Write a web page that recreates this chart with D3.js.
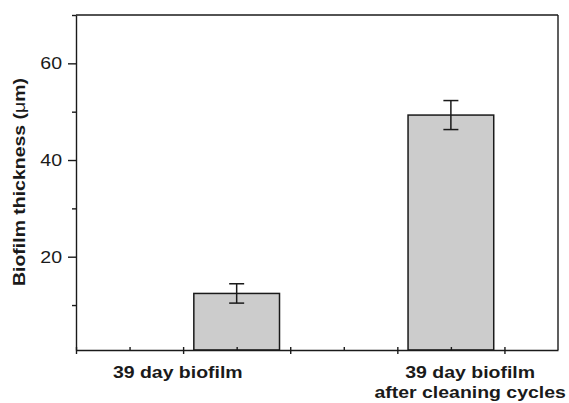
<!doctype html>
<html>
<head>
<meta charset="utf-8">
<script src="https://cdn.jsdelivr.net/npm/d3@7"></script>
<style>
  body { margin: 0; background: #fff; }
  svg { display: block; font-family: "Liberation Sans", Arial, sans-serif; }
</style>
</head>
<body>
<svg id="chart" width="569" height="403"></svg>
<script>
  // data
  var categories = ['39 day biofilm', '39 day biofilm|after cleaning cycles'];
  var barPos = [1.5, 3.5];
  var labelPos = [0.95, 3.68];
  var values = [12.4, 49.3];
  var errors = [2.0, 3.0];
  var yMajor = [20, 40, 60];
  var yMinor = [10, 30, 50, 70];
  var xMajor = [0, 1, 2, 3, 4];
  var xMinor = [0.5, 1.5, 2.5, 3.5];

  (function () {
    var pLeft = 76, pTop = 15, pRight = 558, pBottom = 350;
    var ink = '#1a1a1a';
    var stretch = 1.18;

    var svg = d3.select('#chart');

    var x = d3.scaleLinear().domain([0, 4.5]).range([pLeft, pRight]);
    var y = d3.scaleLinear().domain([0.7, 70]).range([pBottom, pTop]);

    // frame lines (top and right)
    svg.append('line').attr('x1', pLeft).attr('x2', pRight).attr('y1', pTop).attr('y2', pTop)
      .attr('stroke', ink).attr('stroke-width', 1.4);
    svg.append('line').attr('x1', pRight).attr('x2', pRight).attr('y1', pTop).attr('y2', pBottom)
      .attr('stroke', ink).attr('stroke-width', 1.4);

    // bars
    var bw = x(0.8) - x(0);
    svg.append('g').selectAll('rect')
      .data(values)
      .enter().append('rect')
      .attr('x', function (d, i) { return x(barPos[i]) - bw / 2; })
      .attr('y', function (d) { return y(d); })
      .attr('width', bw)
      .attr('height', function (d) { return pBottom - y(d); })
      .attr('fill', '#cccccc')
      .attr('stroke', ink)
      .attr('stroke-width', 1.5);

    // error bars
    var eb = svg.append('g').attr('stroke', ink).attr('stroke-width', 1.5);
    values.forEach(function (v, i) {
      var cx = x(barPos[i]);
      eb.append('line').attr('x1', cx).attr('x2', cx).attr('y1', y(v + errors[i])).attr('y2', y(v - errors[i]));
      [v + errors[i], v - errors[i]].forEach(function (e) {
        eb.append('line').attr('x1', cx - 7.5).attr('x2', cx + 7.5).attr('y1', y(e)).attr('y2', y(e));
      });
    });

    // y axis
    var yAx = svg.append('g').attr('transform', 'translate(' + pLeft + ',0)')
      .call(d3.axisLeft(y).tickValues(yMajor).tickSize(8).tickSizeOuter(0).tickPadding(6));
    yAx.select('.domain').attr('stroke', ink).attr('stroke-width', 1.4);
    yAx.selectAll('.tick line').attr('stroke', ink).attr('stroke-width', 1.4);
    yAx.selectAll('.tick text')
      .attr('x', 0)
      .attr('fill', ink)
      .style('font-size', '17px')
      .attr('transform', 'translate(-14,0) scale(1.15,1)');
    svg.append('g').attr('transform', 'translate(' + pLeft + ',0)')
      .call(d3.axisLeft(y).tickValues(yMinor).tickSize(4).tickFormat(''))
      .call(function (g) { g.select('.domain').remove(); })
      .selectAll('.tick line').attr('stroke', ink).attr('stroke-width', 1.4);

    // x axis
    var xAx = svg.append('g').attr('transform', 'translate(0,' + pBottom + ')')
      .call(d3.axisBottom(x).tickValues(xMajor).tickSizeOuter(0).tickSizeInner(4).tickFormat(''));
    xAx.select('.domain').attr('stroke', ink).attr('stroke-width', 1.4);
    xAx.selectAll('.tick line').attr('y1', -3).attr('stroke', ink).attr('stroke-width', 1.4);
    svg.append('g').attr('transform', 'translate(0,' + pBottom + ')')
      .call(d3.axisBottom(x).tickValues(xMinor).tickSize(-3).tickFormat(''))
      .call(function (g) { g.select('.domain').remove(); })
      .selectAll('.tick line').attr('stroke', ink).attr('stroke-width', 1.4);

    // category labels
    categories.forEach(function (c, i) {
      c.split('|').forEach(function (line, j) {
        svg.append('text')
          .attr('transform', 'translate(' + x(labelPos[i]) + ',' + (378 + j * 20) + ') scale(' + stretch + ',1)')
          .attr('text-anchor', 'middle')
          .attr('fill', ink)
          .style('font-size', '16.5px')
          .style('font-weight', 'bold')
          .text(line);
      });
    });

    // y title
    var yt = svg.append('text')
      .attr('transform', 'translate(25,' + ((76 + 288) / 2) + ') rotate(-90) scale(' + stretch + ',1)')
      .attr('text-anchor', 'middle')
      .attr('fill', ink)
      .style('font-size', '16.5px')
      .style('font-weight', 'bold');
    yt.append('tspan').text('Biofilm thickness (');
    yt.append('tspan').style('font-weight', 'normal').text('\u03bc');
    yt.append('tspan').text('m)');
  })();
</script>
</body>
</html>
